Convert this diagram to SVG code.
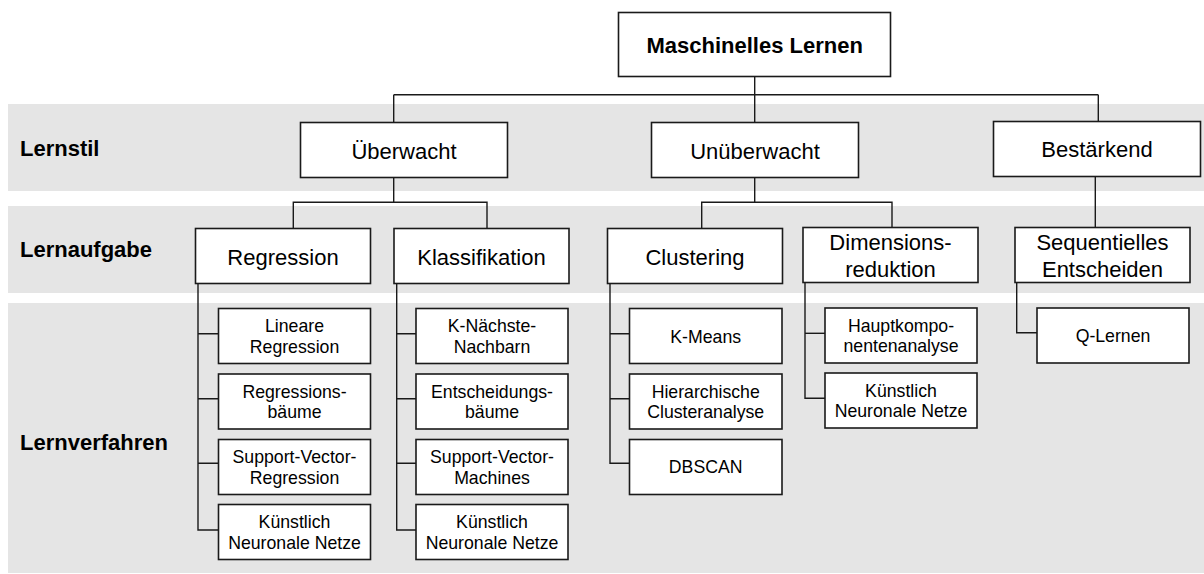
<svg xmlns="http://www.w3.org/2000/svg" width="1204" height="574" viewBox="0 0 1204 574">
  <style>
    .band { fill: #e5e5e5; }
    .lvl { font-family: "Liberation Sans", Arial, sans-serif; font-size: 22px; font-weight: bold; fill: #000; }
    .box { fill: #fff; stroke: #1a1a1a; stroke-width: 1.6; }
    .t1 { font-family: "Liberation Sans", Arial, sans-serif; font-size: 22px; fill: #000; text-anchor: middle; }
    .t0 { font-family: "Liberation Sans", Arial, sans-serif; font-size: 22px; font-weight: bold; fill: #000; text-anchor: middle; }
    .t3 { font-family: "Liberation Sans", Arial, sans-serif; font-size: 17.7px; fill: #000; text-anchor: middle; }
    .conn { fill: none; stroke: #1a1a1a; stroke-width: 1.4; }
  </style>

  <!-- level bands -->
  <g id="bands">
    <rect class="band" x="8" y="104" width="1196" height="87"/>
    <rect class="band" x="8" y="206" width="1196" height="87"/>
    <rect class="band" x="8" y="303" width="1196" height="270"/>
    <text class="lvl" x="20" y="156">Lernstil</text>
    <text class="lvl" x="20" y="257">Lernaufgabe</text>
    <text class="lvl" x="20" y="450">Lernverfahren</text>
  </g>

  <!-- connectors -->
  <g id="connectors" class="conn">
    <path d="M754.7 76.5 V122.5"/>
    <path d="M393.7 94.7 H1098.3"/>
    <path d="M393.7 94.7 V122.5"/>
    <path d="M1098.3 94.7 V121.5"/>

    <path d="M393.7 177.5 V202.3"/>
    <path d="M293.3 228.5 V202.3 H487 V228.5"/>
    <path d="M754.7 177.5 V202.3"/>
    <path d="M701.7 228.5 V202.3 H892 V227.5"/>
    <path d="M1095.3 176.5 V227.5"/>

    <path d="M198 283.5 V530 H218.5"/>
    <path d="M198 333.7 H218.5 M198 398.7 H218.5 M198 463.3 H218.5"/>
    <path d="M396.7 283.5 V530 H416"/>
    <path d="M396.7 333.7 H416 M396.7 398.7 H416 M396.7 463.3 H416"/>
    <path d="M610 283.5 V463.3 H629.5"/>
    <path d="M610 333.7 H629.5 M610 398.7 H629.5"/>
    <path d="M805 282.5 V398.3 H825"/>
    <path d="M805 333.3 H825"/>
    <path d="M1016.7 282.5 V332.7 H1037"/>
  </g>

  <!-- root -->
  <g id="n-ml">
    <rect class="box" x="618.5" y="12.5" width="272" height="64"/>
    <text class="t0" x="754.7" y="52.7">Maschinelles Lernen</text>
  </g>

  <!-- learning styles -->
  <g id="n-ueberwacht">
    <rect class="box" x="300.5" y="122.5" width="207" height="55"/>
    <text class="t1" x="404" y="159">Überwacht</text>
  </g>
  <g id="n-unueberwacht">
    <rect class="box" x="651.5" y="122.5" width="207" height="55"/>
    <text class="t1" x="755" y="158.5">Unüberwacht</text>
  </g>
  <g id="n-bestaerkend">
    <rect class="box" x="993.5" y="121.5" width="207" height="55"/>
    <text class="t1" x="1097" y="157">Bestärkend</text>
  </g>

  <!-- learning tasks -->
  <g id="n-regression">
    <rect class="box" x="195.5" y="228.5" width="175" height="55"/>
    <text class="t1" x="283" y="265">Regression</text>
  </g>
  <g id="n-klassifikation">
    <rect class="box" x="394" y="228.5" width="175" height="55"/>
    <text class="t1" x="481.5" y="265">Klassifikation</text>
  </g>
  <g id="n-clustering">
    <rect class="box" x="607.5" y="228.5" width="175" height="55"/>
    <text class="t1" x="695" y="265">Clustering</text>
  </g>
  <g id="n-dimred">
    <rect class="box" x="803" y="227.5" width="175" height="55"/>
    <text class="t1" x="890.5" y="250">Dimensions-</text>
    <text class="t1" x="890.5" y="276.5">reduktion</text>
  </g>
  <g id="n-seq">
    <rect class="box" x="1015" y="227.5" width="175" height="55"/>
    <text class="t1" x="1102.5" y="250">Sequentielles</text>
    <text class="t1" x="1102.5" y="276.5">Entscheiden</text>
  </g>

  <!-- methods: regression -->
  <g id="n-linreg">
    <rect class="box" x="218.5" y="308.5" width="152" height="55"/>
    <text class="t3" x="294.5" y="332">Lineare</text>
    <text class="t3" x="294.5" y="352.5">Regression</text>
  </g>
  <g id="n-regtrees">
    <rect class="box" x="218.5" y="374" width="152" height="55"/>
    <text class="t3" x="294.5" y="397.5">Regressions-</text>
    <text class="t3" x="294.5" y="418">bäume</text>
  </g>
  <g id="n-svr">
    <rect class="box" x="218.5" y="439.5" width="152" height="55"/>
    <text class="t3" x="294.5" y="463">Support-Vector-</text>
    <text class="t3" x="294.5" y="483.5">Regression</text>
  </g>
  <g id="n-knn-reg">
    <rect class="box" x="218.5" y="504.5" width="152" height="55"/>
    <text class="t3" x="294.5" y="528">Künstlich</text>
    <text class="t3" x="294.5" y="548.5">Neuronale Netze</text>
  </g>

  <!-- methods: classification -->
  <g id="n-knearest">
    <rect class="box" x="416" y="308.5" width="152" height="55"/>
    <text class="t3" x="492" y="332">K-Nächste-</text>
    <text class="t3" x="492" y="352.5">Nachbarn</text>
  </g>
  <g id="n-dtrees">
    <rect class="box" x="416" y="374" width="152" height="55"/>
    <text class="t3" x="492" y="397.5">Entscheidungs-</text>
    <text class="t3" x="492" y="418">bäume</text>
  </g>
  <g id="n-svm">
    <rect class="box" x="416" y="439.5" width="152" height="55"/>
    <text class="t3" x="492" y="463">Support-Vector-</text>
    <text class="t3" x="492" y="483.5">Machines</text>
  </g>
  <g id="n-knn-cls">
    <rect class="box" x="416" y="504.5" width="152" height="55"/>
    <text class="t3" x="492" y="528">Künstlich</text>
    <text class="t3" x="492" y="548.5">Neuronale Netze</text>
  </g>

  <!-- methods: clustering -->
  <g id="n-kmeans">
    <rect class="box" x="629.5" y="308.5" width="152.5" height="55"/>
    <text class="t3" x="705.7" y="342.5">K-Means</text>
  </g>
  <g id="n-hier">
    <rect class="box" x="629.5" y="374" width="152.5" height="55"/>
    <text class="t3" x="705.7" y="397.5">Hierarchische</text>
    <text class="t3" x="705.7" y="418">Clusteranalyse</text>
  </g>
  <g id="n-dbscan">
    <rect class="box" x="629.5" y="439.5" width="152.5" height="55"/>
    <text class="t3" x="705.7" y="473">DBSCAN</text>
  </g>

  <!-- methods: dimensionality reduction -->
  <g id="n-pca">
    <rect class="box" x="825" y="308" width="152" height="55"/>
    <text class="t3" x="901" y="331.5">Hauptkompo-</text>
    <text class="t3" x="901" y="352">nentenanalyse</text>
  </g>
  <g id="n-knn-dim">
    <rect class="box" x="825" y="373" width="152" height="55"/>
    <text class="t3" x="901" y="396.5">Künstlich</text>
    <text class="t3" x="901" y="417">Neuronale Netze</text>
  </g>

  <!-- methods: sequential decisions -->
  <g id="n-qlearn">
    <rect class="box" x="1037" y="308" width="152" height="55"/>
    <text class="t3" x="1113" y="341.7">Q-Lernen</text>
  </g>
</svg>
